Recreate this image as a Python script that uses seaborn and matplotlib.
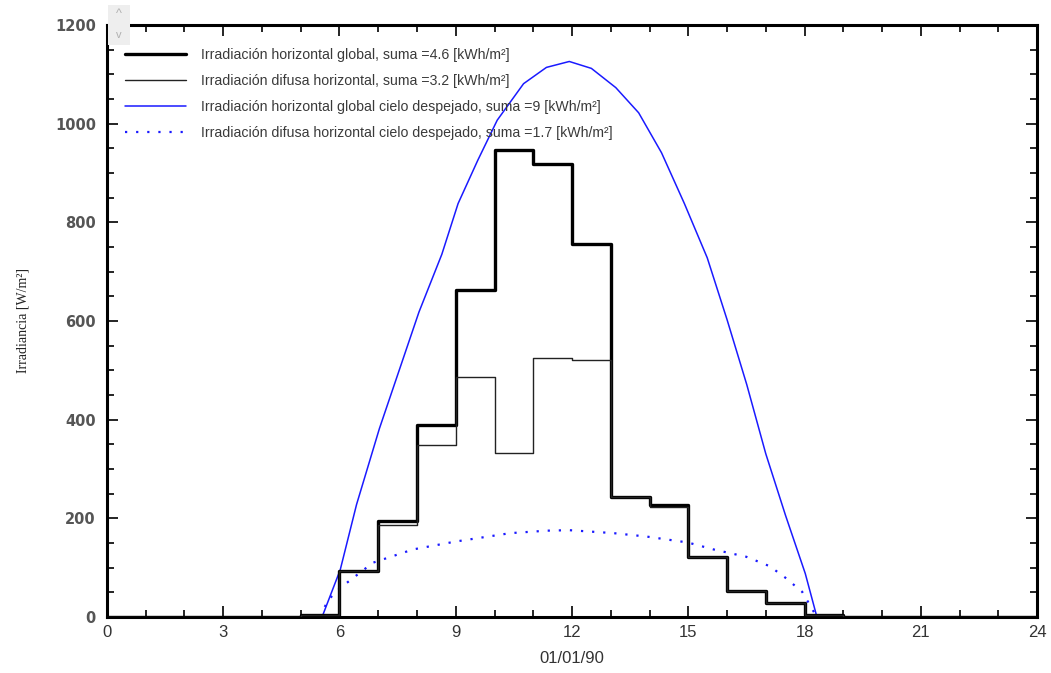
import numpy as np
import pandas as pd
import matplotlib
matplotlib.use("Agg")
import matplotlib.pyplot as plt
import seaborn as sns
from matplotlib.ticker import MultipleLocator
from matplotlib.patches import Rectangle

# hourly measured values (W/m2), hour 0..23
hours = list(range(25))
global_h = [0, 0, 0, 0, 0, 5, 94, 195, 389, 663, 947, 918, 756, 244, 227, 122, 53, 29, 5, 0, 0, 0, 0, 0]
diffuse_h = [0, 0, 0, 0, 0, 5, 94, 186, 349, 487, 332, 525, 520, 244, 222, 122, 53, 29, 5, 0, 0, 0, 0, 0]

# clear sky curves
cs_global_x = [5.55, 6.02, 6.44, 7.03, 7.54, 8.05, 8.64, 9.06, 9.57, 10.07, 10.75, 11.34, 11.93,
               12.5, 13.13, 13.72, 14.31, 14.9, 15.49, 16.0, 16.51, 17.0, 17.51, 18.02, 18.32]
cs_global_y = [0, 96, 228, 382, 500, 618, 735, 838, 926, 1007, 1081, 1114, 1126,
               1112, 1073, 1022, 941, 838, 728, 603, 471, 331, 206, 88, 0]
cs_diffuse_x = [5.5, 5.7, 6.02, 6.86, 7.9, 9.0, 10.41, 11.35, 11.93, 13.07, 13.93, 14.99,
                15.65, 16.5, 17.1, 17.5, 17.94, 18.28]
cs_diffuse_y = [0, 34, 59, 110, 137, 153, 170, 175, 176, 170, 163, 151, 137, 122, 103, 80, 51, 5]

labels = ["Irradiación horizontal global, suma =4.6 [kWh/m²]",
          "Irradiación difusa horizontal, suma =3.2 [kWh/m²]",
          "Irradiación horizontal global cielo despejado, suma =9 [kWh/m²]",
          "Irradiación difusa horizontal cielo despejado, suma =1.7 [kWh/m²]"]

sns.set_theme(style="white")
plt.rcParams["font.family"] = ["Liberation Sans", "DejaVu Sans"]

fig = plt.figure(figsize=(10.51, 6.73), dpi=100)
ax = fig.add_axes([0.1018, 0.0832, 0.8849, 0.8797])

df_g = pd.DataFrame({"h": hours, "v": global_h + [global_h[-1]]})
df_d = pd.DataFrame({"h": hours, "v": diffuse_h + [diffuse_h[-1]]})
df_cg = pd.DataFrame({"h": cs_global_x, "v": cs_global_y})
df_cd = pd.DataFrame({"h": cs_diffuse_x, "v": cs_diffuse_y})

sns.lineplot(data=df_g, x="h", y="v", ax=ax, color="black", lw=2.4,
             drawstyle="steps-post", estimator=None, label=labels[0], zorder=4)
sns.lineplot(data=df_d, x="h", y="v", ax=ax, color="#222222", lw=1.0,
             drawstyle="steps-post", estimator=None, label=labels[1], zorder=5)
sns.lineplot(data=df_cg, x="h", y="v", ax=ax, color="#1a1aff", lw=1.1,
             estimator=None, label=labels[2], zorder=3)
sns.lineplot(data=df_cd, x="h", y="v", ax=ax, color="#1a1aff", lw=1.6,
             linestyle=(0, (1, 4)), estimator=None, label=labels[3], zorder=3)

ax.set_xlim(0, 24)
ax.set_ylim(0, 1200)
ax.xaxis.set_major_locator(MultipleLocator(3))
ax.xaxis.set_minor_locator(MultipleLocator(1))
ax.yaxis.set_major_locator(MultipleLocator(200))
ax.yaxis.set_minor_locator(MultipleLocator(50))
ax.tick_params(which="both", direction="in", top=True, right=True, bottom=True, left=True,
               color="black", width=1.2)
ax.tick_params(which="major", length=8)
ax.tick_params(which="minor", length=5)
ax.tick_params(axis="x", pad=6, labelsize=12, labelcolor="#333333")
ax.tick_params(axis="y", pad=8, labelcolor="#555555")
for t in ax.get_yticklabels():
    t.set_fontfamily("DejaVu Sans")
    t.set_fontweight("bold")
    t.set_fontsize(10.5)

for s in ax.spines.values():
    s.set_color("black")
    s.set_linewidth(2.2)

ax.set_xlabel("01/01/90", fontsize=12, color="#333333", labelpad=8)
ax.set_ylabel("Irradiancia [W/m²]", fontsize=10, family=["Liberation Serif", "DejaVu Serif"],
              color="#222222", labelpad=18)

leg = ax.legend(loc="upper left", bbox_to_anchor=(0.0075, 0.98), frameon=False, fontsize=10.2,
                handlelength=4.3, handletextpad=1.05, labelspacing=0.85, borderaxespad=0.4)
for t in leg.get_texts():
    t.set_color("#3a3a3a")

# little scroll widget in the top left corner
fig.patches.append(Rectangle((108 / 1051, 1 - 45 / 673), 22 / 1051, 40 / 673,
                             transform=fig.transFigure, facecolor="#eeeeee", edgecolor="none"))
fig.text(119 / 1051, 1 - 14 / 673, "^", ha="center", va="center", fontsize=9, color="#b0b0b0")
fig.text(119 / 1051, 1 - 35 / 673, "v", ha="center", va="center", fontsize=8, color="#b0b0b0")

fig.savefig("out.png", dpi=100)
